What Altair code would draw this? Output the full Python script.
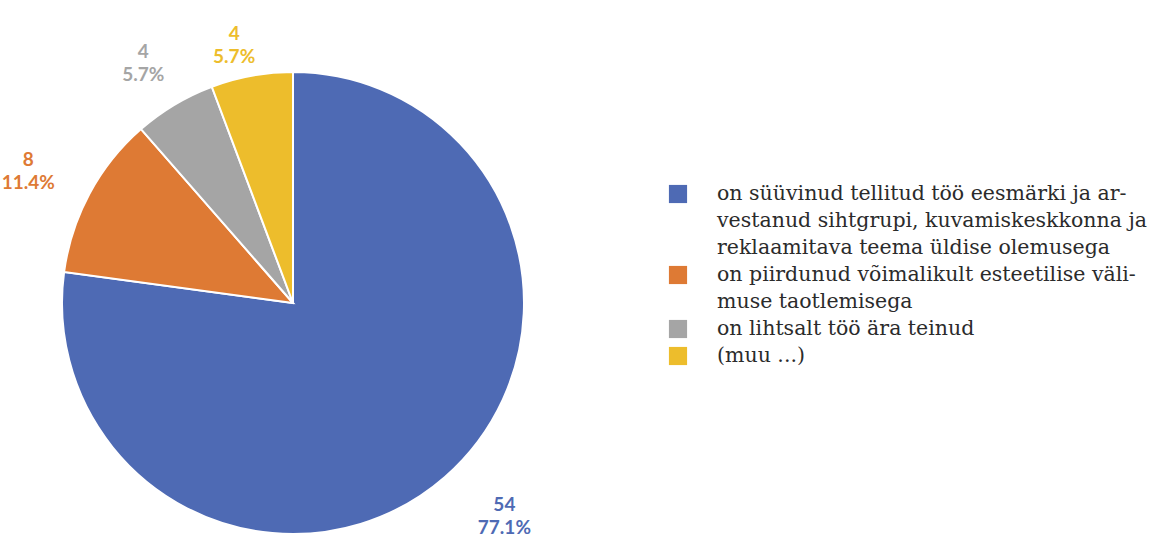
import altair as alt
import pandas as pd
import math

# ---- data ----
categories = [
    "on süüvinud tellitud töö eesmärki ja arvestanud sihtgrupi, kuvamiskeskkonna ja reklaamitava teema üldise olemusega",
    "on piirdunud võimalikult esteetilise välimuse taotlemisega",
    "on lihtsalt töö ära teinud",
    "(muu ...)",
]
counts = [54, 8, 4, 4]
legend_lines = [
    ["on süüvinud tellitud töö eesmärki ja ar-",
     "vestanud sihtgrupi, kuvamiskeskkonna ja",
     "reklaamitava teema üldise olemusega"],
    ["on piirdunud võimalikult esteetilise väli-",
     "muse taotlemisega"],
    ["on lihtsalt töö ära teinud"],
    ["(muu ...)"],
]
colors = ["#4E6AB4", "#DE7A34", "#A5A5A5", "#EDBD2C"]
label_colors = ["#4A64AA", "#D97A36", "#A3A3A3", "#E9B92E"]

total = sum(counts)
df = pd.DataFrame({"cat": categories, "count": counts, "idx": list(range(len(counts)))})

lines = []
row = 0
for i, ls in enumerate(legend_lines):
    for j, t in enumerate(ls):
        lines.append({"cat": categories[i], "line": t, "row": row, "first": j == 0})
        row += 1
ldf = pd.DataFrame(lines)

color_scale = alt.Scale(domain=categories, range=colors)
label_scale = alt.Scale(domain=categories, range=label_colors)

# ---- pie ----
base = alt.Chart(df)
arcs = base.mark_arc(outerRadius=231, stroke="white", strokeWidth=2).encode(
    theta=alt.Theta("count:Q", stack=True),
    color=alt.Color("cat:N", scale=color_scale, legend=None),
    order=alt.Order("idx:Q"),
)

lab_base = base.transform_window(
    cum="sum(count)", sort=[alt.SortField("idx")]
).transform_calculate(
    mid="datum.cum - datum.count / 2",
    label="[datum.count + '', format(datum.count / %d, '.1%%')]" % total,
)
theta_mid = alt.Theta("mid:Q", scale=alt.Scale(domain=[0, total], range=[0, 2 * math.pi]))


def labels(filt, radius, dx=0, dy=0):
    return lab_base.transform_filter(filt).mark_text(
        radius=radius, font="Lato", fontSize=19, fontWeight="bold", lineHeight=23,
        dx=dx, dy=dy,
    ).encode(
        theta=theta_mid,
        text="label:N",
        color=alt.Color("cat:N", scale=label_scale, legend=None),
    )


pie = alt.layer(
    arcs,
    labels("datum.idx == 0", 300, dx=14, dy=-24),
    labels("datum.idx == 1", 296, dx=-4, dy=-3),
    labels("datum.idx == 2", 292),
    labels("datum.idx == 3", 268, dx=-11, dy=-5),
).properties(width=586, height=478)

# ---- legend ----
step = 27.0
first_row_local = 130.0
h = 478.0
y_scale = alt.Scale(domain=[-first_row_local / step, (h - first_row_local) / step], reverse=True)

lbase = alt.Chart(ldf)
ltext = lbase.mark_text(
    align="left", baseline="middle", font="DejaVu Serif", fontSize=20.5, color="#2b2b2b"
).encode(
    x=alt.value(77),
    y=alt.Y("row:Q", scale=y_scale, axis=None),
    text="line:N",
)
lsq = lbase.transform_filter("datum.first").mark_square(size=330, opacity=1).encode(
    x=alt.value(38),
    y=alt.Y("row:Q", scale=y_scale, axis=None),
    color=alt.Color("cat:N", scale=color_scale, legend=None),
)
legend = alt.layer(lsq, ltext).properties(width=502, height=478)

chart = alt.hconcat(pie, legend, spacing=54).properties(
    padding={"top": 25, "left": 0, "right": 0, "bottom": 0},
    background="white",
).resolve_scale(y="independent").configure_view(strokeOpacity=0, strokeWidth=0)

chart.save("out.html", embed_options={"renderer": "svg", "actions": False})
